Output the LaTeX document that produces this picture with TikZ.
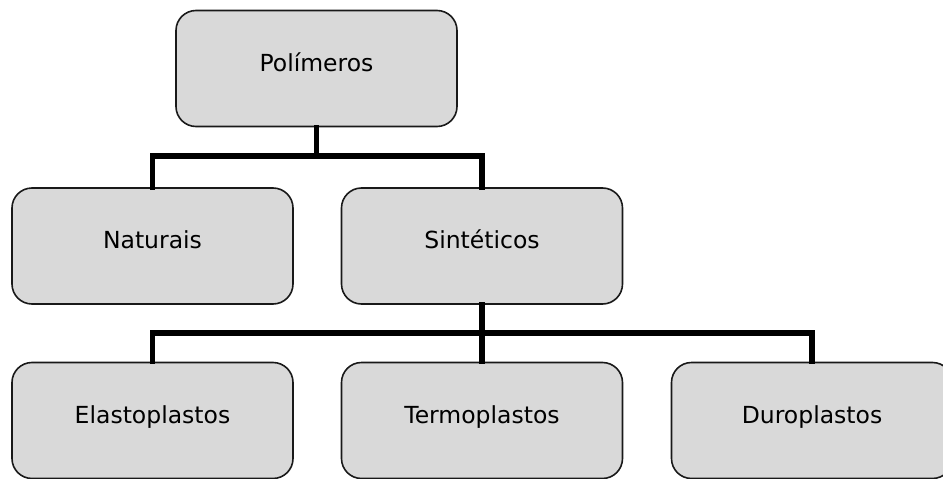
\documentclass[tikz,border=0pt]{standalone}
\usepackage{fontspec}
\setmainfont{DejaVu Sans}
\definecolor{boxgray}{HTML}{D9D9D9}

\begin{document}
\begin{tikzpicture}[line cap=rect,line join=miter,x=1pt,y=-1pt,
  box/.style={draw=black!90,line width=1.6pt,fill=boxgray,rounded corners=20pt,
    minimum width=281pt,minimum height=116pt,inner sep=0pt,
    font=\fontsize{23.5}{28}\selectfont,text height=0.75em,text depth=0.25em},
  bar/.style={line width=5.5pt,color=black}]
\useasboundingbox (0,0) rectangle (943,479);
\clip (0,0) rectangle (943,479);
%\draw [help lines,step=50] (0,0) grid (943,479);
% boxes
\node[box] (poli) at (316.5,68.5) {Polímeros};
\node[box] (nat) at (152.5,246) {Naturais};
\node[box] (sint) at (482,246) {Sintéticos};
\node[box] (elast) at (152.5,420.5) {Elastoplastos};
\node[box] (termo) at (482,420.5) {Termoplastos};
\node[box] (duro) at (812,420.5) {Duroplastos};
% junctions
\coordinate (j1) at (316.5,156);
\coordinate (j2) at (482,333);
% connectors
\draw[bar] (poli.south) -- (j1);
\draw[bar] (nat.north) -- (nat.north |- j1) -- (sint.north |- j1) -- (sint.north);
\draw[bar] (sint.south) -- (termo.north);
\draw[bar] (elast.north) -- (elast.north |- j2) -- (duro.north |- j2) -- (duro.north);
\end{tikzpicture}
\end{document}
